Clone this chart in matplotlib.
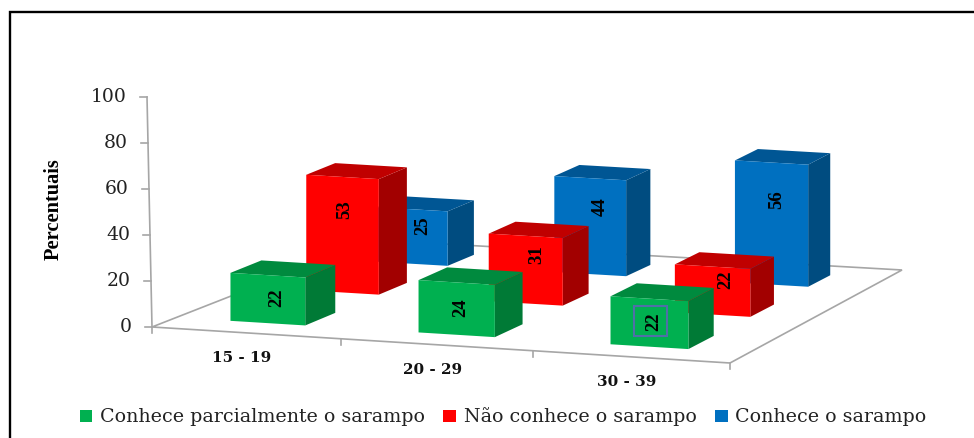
import numpy as np
import matplotlib
matplotlib.use("Agg")
import matplotlib.pyplot as plt
from matplotlib.patches import Patch, Polygon, Rectangle

# Survey results by age group
age_groups = ["15 - 19", "20 - 29", "30 - 39"]
series_names = ["Conhece parcialmente o sarampo", "Não conhece o sarampo", "Conhece o sarampo"]
parcial = [22, 24, 22]
nao_conhece = [53, 31, 22]
conhece = [25, 44, 56]
y_ticks = [0, 20, 40, 60, 80, 100]

series_values = [parcial, nao_conhece, conhece]

# Face colours per series: front, top, side
front_colors = ["#00B050", "#FF0000", "#0070C0"]
top_colors = ["#008A3E", "#C00000", "#005694"]
side_colors = ["#007A36", "#A20000", "#004C80"]
grid_color = "#A6A6A6"

# Floor corners on the canvas, used for the perspective projection
floor_corners = np.array([[152, 327], [730, 363], [902, 270], [374, 240]], float)
grid_corners = np.array([[0, 0], [3, 0], [3, 3], [0, 3]], float)


def homography(src, dst):
    rows, rhs = [], []
    for (u, v), (x, y) in zip(src, dst):
        rows.append([u, v, 1, 0, 0, 0, -u * x, -v * x])
        rows.append([0, 0, 0, u, v, 1, -u * y, -v * y])
        rhs += [x, y]
    h = np.linalg.solve(np.array(rows), np.array(rhs))
    return np.append(h, 1).reshape(3, 3)


H = homography(grid_corners, floor_corners)
Z_SCALE = 2.18
AXIS_SCALE = 2.3


def project(u, v, z=0.0):
    p = H @ np.array([u, v, 1.0])
    return np.array([p[0] / p[2], p[1] / p[2] - z * Z_SCALE])


fig = plt.figure(figsize=(9.74, 4.38), dpi=100, facecolor="white")
ax = fig.add_axes([0, 0, 1, 1])
ax.set_xlim(0, 974)
ax.set_ylim(438, 0)
ax.axis("off")

serif = "DejaVu Serif"
times = "Liberation Serif"

# Frame: left and top edges only
ax.plot([10, 10, 974], [438, 12, 12], color="black", lw=1.7, solid_joinstyle="miter")

# Floor outline and category ticks
ax.add_patch(Polygon(floor_corners, closed=True, facecolor="white", edgecolor=grid_color, lw=1.2, zorder=1))
for i in range(4):
    px, py = project(i, 0)
    ax.plot([px, px], [py, py + 6], color=grid_color, lw=1.2, zorder=1)

# Value axis with its ticks and labels
ax_x0, ax_x1 = 152.0, 147.0
for t in y_ticks:
    ty = 327 - t * AXIS_SCALE
    tx = ax_x0 + (ax_x1 - ax_x0) * t / 100
    ax.plot([tx - 7, tx], [ty, ty], color=grid_color, lw=1.2, zorder=1)
    ax.text(tx - 20, ty - 0.5, str(t), ha="right", va="center", family=serif, fontsize=13.5, color="#222222")
ax.plot([ax_x0, ax_x1], [327, 327 - 100 * AXIS_SCALE], color=grid_color, lw=1.2, zorder=1)
ax.text(54, 209, "Percentuais", rotation=90, ha="center", va="center", family=times,
        fontweight="bold", fontsize=14.7, color="black")

# Category labels below the front edge
for i, label in enumerate(age_groups):
    px, py = project(i + 0.5, 0)
    ax.text(px - 4, py + 25, label, ha="center", va="center", family=serif, fontsize=11,
            fontweight="bold", color="#111111")

# Bar footprint in grid units
half_w, half_d = 0.2, 0.2
bar_shift = -0.008
# Label placement along each front face, by series
label_frac = [0.52, 0.72, 0.70]
label_dx = [[9, 4, 4], [2, 11, 13], [10, 10, 5]]

# Rows are painted back to front so nearer bars cover farther ones
for j in (2, 1, 0):
    for i in range(3):
        val = series_values[j][i]
        uc, vc = i + 0.5 + bar_shift, j + 0.5
        fl = (uc - half_w, vc - half_d)
        fr = (uc + half_w, vc - half_d)
        br = (uc + half_w, vc + half_d)
        bl = (uc - half_w, vc + half_d)
        front = [project(*fl), project(*fr), project(*fr, val), project(*fl, val)]
        side = [project(*fr), project(*br), project(*br, val), project(*fr, val)]
        top = [project(*fl, val), project(*fr, val), project(*br, val), project(*bl, val)]
        z = 3 + (2 - j) * 2
        ax.add_patch(Polygon(side, facecolor=side_colors[j], edgecolor="none", zorder=z))
        ax.add_patch(Polygon(top, facecolor=top_colors[j], edgecolor="none", zorder=z))
        ax.add_patch(Polygon(front, facecolor=front_colors[j], edgecolor="none", zorder=z))
        cx = (project(*fl)[0] + project(*fr)[0]) / 2 + label_dx[j][i]
        base = (project(*fl)[1] + project(*fr)[1]) / 2
        ly = base - val * Z_SCALE * label_frac[j]
        ax.text(cx, ly, str(val), rotation=90, ha="center", va="center", family=times,
                fontweight="bold", fontsize=13.5, color="black", zorder=z + 1)

# Selection box around the last label of the first series
ax.add_patch(Rectangle((634, 306), 33, 30, fill=False, edgecolor="#4F6FA8", lw=1.5, zorder=9))

handles = [Patch(facecolor=c, edgecolor="none") for c in front_colors]
leg = ax.legend(handles, series_names, loc="center", bbox_to_anchor=(503 / 974, 1 - 417 / 438),
                ncol=3, frameon=False, handlelength=0.68, handleheight=0.62, handletextpad=0.4,
                columnspacing=0.95, prop={"family": serif, "size": 13.7})
for t in leg.get_texts():
    t.set_color("#222222")

fig.savefig("out.png", dpi=100)
